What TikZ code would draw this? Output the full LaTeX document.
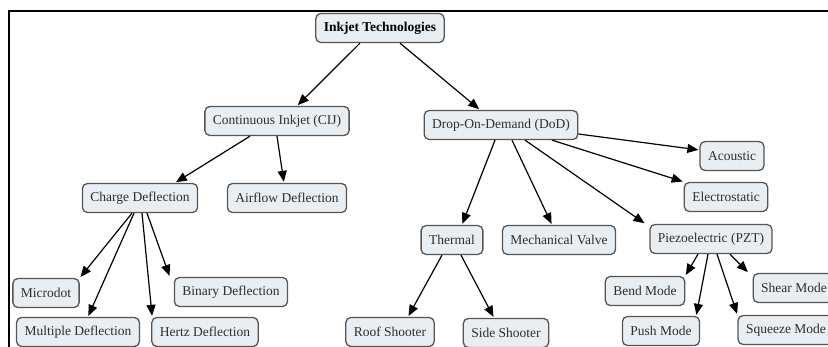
\documentclass[tikz,border=0pt]{standalone}
\usepackage{fontspec}
\setmainfont{Liberation Serif}
\usetikzlibrary{arrows.meta}

\definecolor{boxfill}{HTML}{E9EEF2}
\definecolor{boxline}{HTML}{555555}
\definecolor{txt}{HTML}{2E2E2E}

\begin{document}
\begin{tikzpicture}[
    x=1pt, y=-1pt,
    concept/.style={draw=boxline, fill=boxfill, line width=1.3pt, rounded corners=5pt,
        inner xsep=8pt, minimum height=29pt, text=txt,
        font=\fontsize{13.5}{16}\selectfont},
    link/.style={-{Triangle[length=11pt,width=9pt]}, line width=1.2pt, shorten >=1pt}
]
\clip (0,0) rectangle (828,347);

% Frame
\draw[line width=2pt] (9,347) -- (9,11) -- (830,11);

% Root and first level
\node[concept, font=\fontsize{13.5}{16}\selectfont\bfseries, text=black] (ink) at (380,28) {Inkjet Technologies};
\node[concept] (cij) at (277,121) {Continuous Inkjet (CIJ)};
\node[concept] (dod) at (501,125) {Drop-On-Demand (DoD)};

% Continuous side
\node[concept] (charge) at (140,198) {Charge Deflection};
\node[concept] (airflow) at (287,198) {Airflow Deflection};
\node[concept] (microdot) at (46,293) {Microdot};
\node[concept] (binary) at (231,292) {Binary Deflection};
\node[concept] (multiple) at (78,332) {Multiple Deflection};
\node[concept] (hertz) at (205,332) {Hertz Deflection};

% Drop-on-demand side
\node[concept] (acoustic) at (732,156) {Acoustic};
\node[concept] (electro) at (726,197) {Electrostatic};
\node[concept] (thermal) at (452,240) {Thermal};
\node[concept] (valve) at (559,240) {Mechanical Valve};
\node[concept] (piezo) at (711,239) {Piezoelectric (PZT)};
\node[concept] (roof) at (390,332) {Roof Shooter};
\node[concept] (side) at (506,333) {Side Shooter};
\node[concept] (bend) at (645,291) {Bend Mode};
\node[concept] (push) at (661,331) {Push Mode};
\node[concept] (shear) at (794,288) {Shear Mode};
\node[concept] (squeeze) at (786,330) {Squeeze Mode};

% Top links
\draw[link] ([xshift=-20pt]ink.south) -- ([xshift=20pt]cij.north);
\draw[link] ([xshift=20pt]ink.south) -- ([xshift=-21pt]dod.north);
\draw[link] ([xshift=-27pt]cij.south) -- ([xshift=35pt]charge.north);
\draw[link] (cij.south) -- ([xshift=-3pt]airflow.north);

% Charge deflection fan
\draw[link] ([xshift=-8pt]charge.south) -- (microdot.north east);
\draw[link] ([xshift=-6pt]charge.south) -- ([xshift=10pt]multiple.north);
\draw[link] ([xshift=2pt]charge.south) -- ([xshift=1pt]hertz.north west);
\draw[link] ([xshift=7pt]charge.south) -- ([xshift=-4pt]binary.north west);

% DoD fan
\draw[link] ([yshift=-9pt]dod.east) -- ([yshift=6pt]acoustic.west);
\draw[link] ([xshift=51pt]dod.south) -- (electro.north west);
\draw[link] ([xshift=24pt]dod.south) -- ([xshift=-4pt]piezo.north west);
\draw[link] ([xshift=11pt]dod.south) -- ([xshift=-7pt]valve.north);
\draw[link] ([xshift=-6pt]dod.south) -- ([xshift=10pt]thermal.north);

% Thermal
\draw[link] ([xshift=-10pt]thermal.south) -- ([xshift=18pt]roof.north);
\draw[link] ([xshift=9pt]thermal.south) -- ([xshift=-12pt]side.north);

% Piezoelectric fan
\draw[link] ([xshift=-13pt]piezo.south) -- (bend.north east);
\draw[link] ([xshift=-3pt]piezo.south) -- ([xshift=-4pt]push.north east);
\draw[link] ([xshift=6pt]piezo.south) -- (squeeze.north west);
\draw[link] ([xshift=19pt]piezo.south) -- ([xshift=-4pt]shear.north west);

\end{tikzpicture}
\end{document}
